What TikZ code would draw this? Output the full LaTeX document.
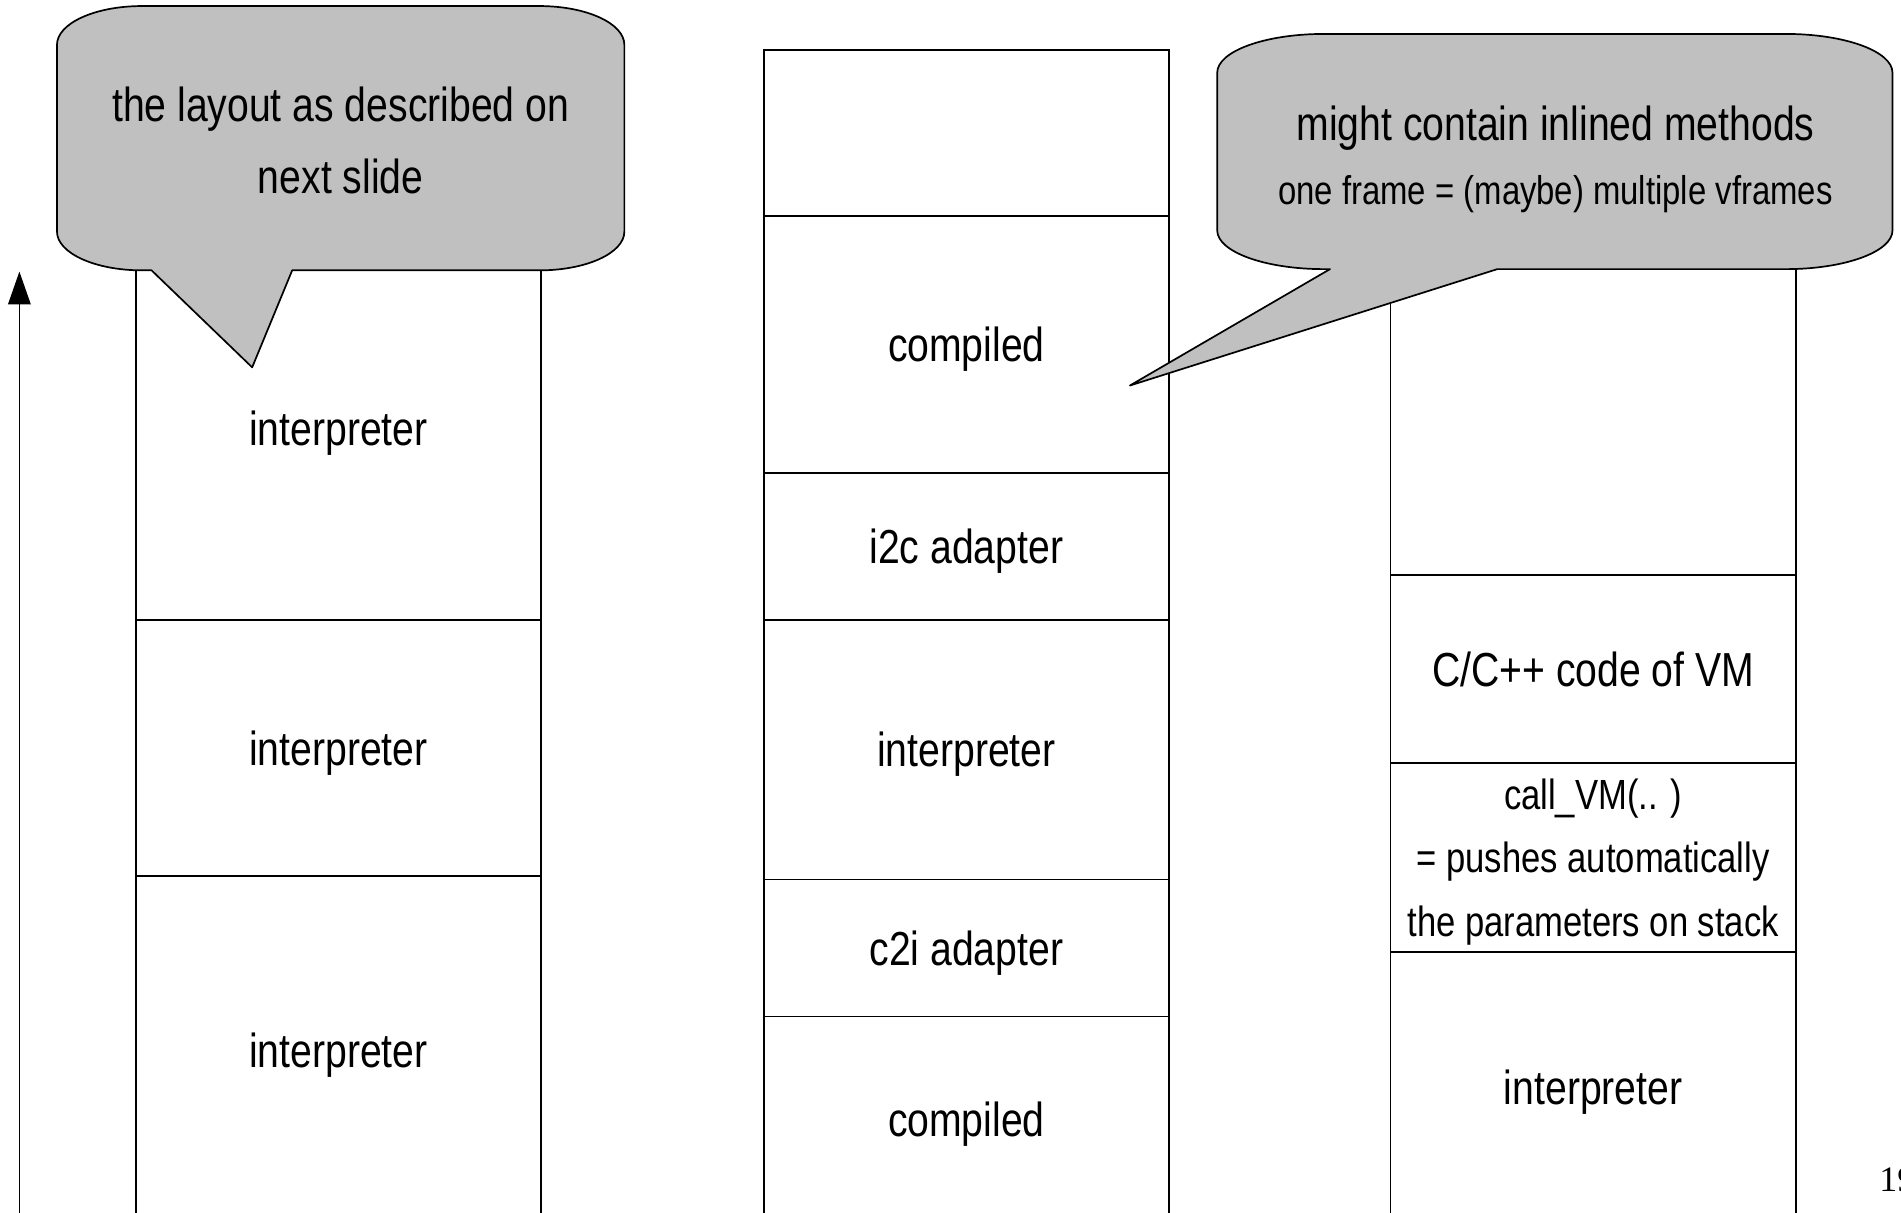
\documentclass[tikz,border=0pt]{standalone}
\usepackage{fontspec}
\setmainfont{Liberation Sans}[FakeStretch=0.82]
\newfontfamily\pagenumfont{Liberation Serif}
\usetikzlibrary{arrows.meta}
\definecolor{bubblegray}{RGB}{192,192,192}
\begin{document}
\begin{tikzpicture}[x=0.01cm, y=-0.01cm, line width=0.4pt,
  cell/.style={draw, rectangle, minimum width=3.34cm, anchor=north west,
    inner sep=0pt, outer sep=0pt, fill=white, text depth=0pt,
    font=\fontsize{11.2}{16.8}\selectfont},
  bubble/.style={draw, fill=bubblegray, line join=round},
  bubbletext/.style={align=center, inner sep=0pt}]
\useasboundingbox (0,0) rectangle (1568,1000.5);

% stack growth direction
\coordinate (growFoot) at (16,1010);
\coordinate (growHead) at (16,224);
\draw[-{Triangle[length=2.7mm,width=1.85mm]}] (growFoot) -- (growHead);

% left stack: interpreted frames only
\node[cell, minimum height=3.16cm] (L1) at (112,195) {interpreter};
\node[cell, minimum height=2.11cm] (L2) at (L1.south west) {interpreter};
\node[cell, minimum height=2.88cm] (L3) at (L2.south west) {interpreter};

% middle stack: mixed interpreted / compiled frames
\node[cell, minimum height=1.37cm] (M0) at (630,41) {};
\node[cell, minimum height=2.12cm] (M1) at (M0.south west) {compiled};
\node[cell, minimum height=1.21cm] (M2) at (M1.south west) {i2c adapter};
\node[cell, minimum height=2.14cm] (M3) at (M2.south west) {interpreter};
\node[cell, minimum height=1.13cm] (M4) at (M3.south west) {c2i adapter};
\node[cell, minimum height=1.70cm] (M5) at (M4.south west) {compiled};

% right stack: call into the VM
\node[cell, minimum height=2.79cm] (R1) at (1147,195) {};
\node[cell, minimum height=1.55cm] (R2) at (R1.south west) {C/C++ code of VM};
\node[cell, minimum height=1.56cm, align=center,
      font=\fontsize{9.9}{14.9}\selectfont] (R3) at (R2.south west)
      {call\_VM(.. )\\= pushes automatically\\the parameters on stack};
\node[cell, minimum height=2.22cm] (R4) at (R3.south west) {interpreter};

% left speech bubble
\draw[bubble] (47,37) -- (47,191)
  .. controls (47,208.7) and (78.3,223) .. (117,223)
  -- (125,223) -- (208,303) -- (241,223) -- (445,223)
  .. controls (483.7,223) and (515,208.7) .. (515,191)
  -- (515,37)
  .. controls (515,19.3) and (483.7,5) .. (445,5)
  -- (117,5)
  .. controls (78.3,5) and (47,19.3) .. (47,37) -- cycle;
\node[bubbletext, font=\fontsize{11.2}{16.8}\selectfont] (noteLayout) at (281,116)
  {the layout as described on\\next slide};

% right speech bubble
\draw[bubble] (1004,60) -- (1004,190)
  .. controls (1004,207.7) and (1043.4,222) .. (1092,222)
  -- (1097,222) -- (932,318) -- (1235,222) -- (1473,222)
  .. controls (1521.6,222) and (1561,207.7) .. (1561,190)
  -- (1561,60)
  .. controls (1561,42.3) and (1521.6,28) .. (1473,28)
  -- (1092,28)
  .. controls (1043.4,28) and (1004,42.3) .. (1004,60) -- cycle;
\node[bubbletext, font=\fontsize{11.2}{13}\selectfont] (noteInline) at (1283,106)
  {might contain inlined methods};
\node[bubbletext, font=\fontsize{9.4}{11}\selectfont] (noteFrames) at (1283,160)
  {one frame = (maybe) multiple vframes};

% page number
\node[anchor=base west, inner sep=0pt, font=\pagenumfont\fontsize{8.4}{10}\selectfont]
  (pageNo) at (1549.5,983) {19};
\end{tikzpicture}
\end{document}
